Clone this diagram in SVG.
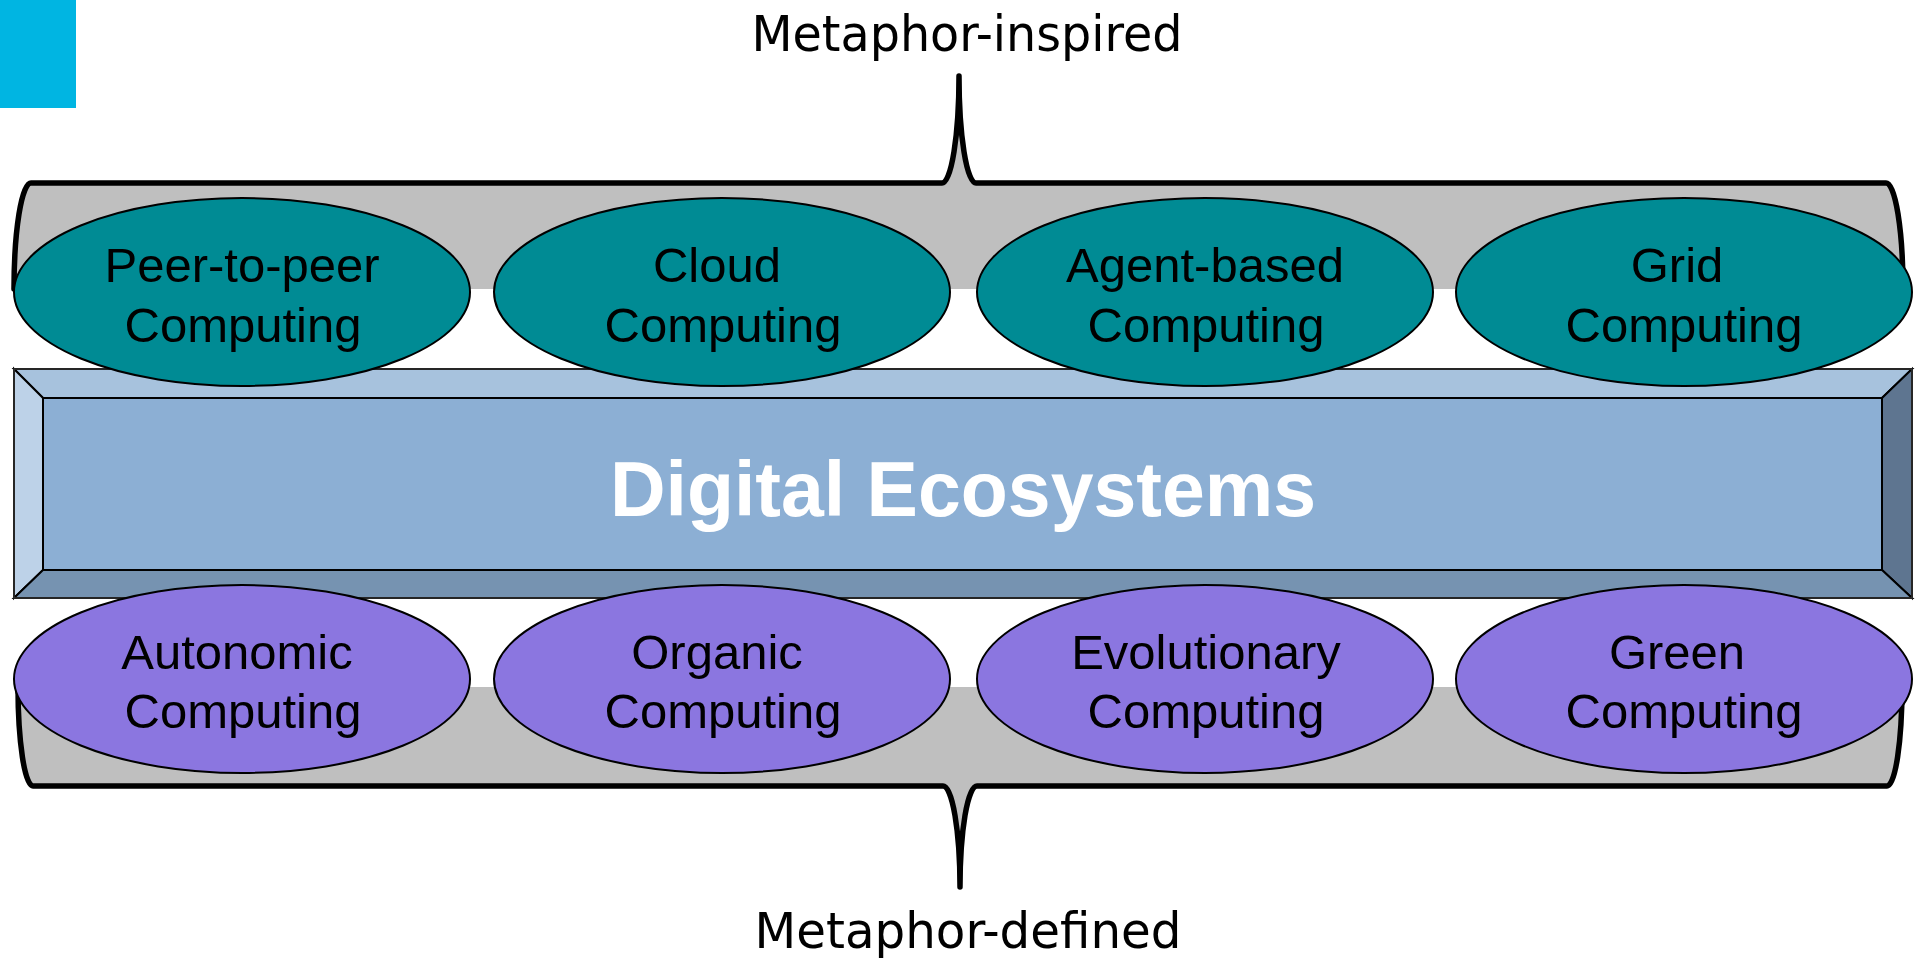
<svg xmlns="http://www.w3.org/2000/svg" width="1915" height="961" viewBox="0 0 1915 961">
  <style>
    .brace { fill: #BFBFBF; stroke: #000; stroke-width: 5.5; stroke-linecap: round; stroke-linejoin: round; }
    .top { fill: #008B94; stroke: #000; stroke-width: 2; }
    .bottom { fill: #8B76E0; stroke: #000; stroke-width: 2; }
    .label { font-family: "Liberation Sans", Arial, sans-serif; font-size: 49px; fill: #000; text-anchor: middle; }
    .caption { font-family: "DejaVu Sans", Verdana, sans-serif; font-size: 49px; fill: #000; text-anchor: middle; }
    .title { font-family: "Liberation Sans", Arial, sans-serif; font-size: 77px; font-weight: bold; fill: #FFF; text-anchor: middle; }
    .edge { stroke: #000; stroke-width: 2; stroke-linejoin: miter; }
  </style>

  <rect id="corner-mark" x="0" y="0" width="76" height="108" fill="#00B5E2"/>

  <!-- brackets above and below the stack -->
  <g id="braces">
    <path class="brace" d="M14,289 A17,106 0 0 1 31,183 L942,183 A17,107 0 0 0 959,76 A17,107 0 0 0 976,183 L1886,183 A17,106 0 0 1 1903,289"/>
    <path class="brace" d="M18,687 A15,99 0 0 0 33,786 L943,786 A17,101 0 0 1 960,887 A17,101 0 0 1 977,786 L1887,786 A15,99 0 0 0 1902,687"/>
  </g>

  <text id="caption-top" class="caption" x="967" y="51" textLength="431" lengthAdjust="spacingAndGlyphs">Metaphor-inspired</text>
  <text id="caption-bottom" class="caption" x="968" y="948" textLength="427" lengthAdjust="spacingAndGlyphs">Metaphor-defined</text>

  <!-- central bevelled bar -->
  <g id="digital-ecosystems">
    <polygon class="edge" fill="#A7C2DD" points="14,369 1912,369 1882,398 43,398"/>
    <polygon class="edge" fill="#BDD2E8" points="14,369 43,398 43,570 14,598"/>
    <polygon class="edge" fill="#5E7590" points="1912,369 1912,598 1882,570 1882,398"/>
    <polygon class="edge" fill="#7693B1" points="14,598 43,570 1882,570 1912,598"/>
    <rect class="edge" fill="#8CAFD4" x="43" y="398" width="1839" height="172"/>
    <rect x="14" y="369" width="1898" height="229" fill="none" stroke="#333" stroke-width="1.5"/>
    <text class="title" x="963" y="516">Digital Ecosystems</text>
  </g>

  <!-- upper row -->
  <g id="peer-to-peer">
    <ellipse class="top" cx="242" cy="292" rx="228" ry="94"/>
    <text class="label" x="242" y="282">Peer-to-peer</text>
    <text class="label" x="243" y="342">Computing</text>
  </g>
  <g id="cloud">
    <ellipse class="top" cx="722" cy="292" rx="228" ry="94"/>
    <text class="label" x="717" y="282">Cloud</text>
    <text class="label" x="723" y="342">Computing</text>
  </g>
  <g id="agent-based">
    <ellipse class="top" cx="1205" cy="292" rx="228" ry="94"/>
    <text class="label" x="1205" y="282">Agent-based</text>
    <text class="label" x="1206" y="342">Computing</text>
  </g>
  <g id="grid">
    <ellipse class="top" cx="1684" cy="292" rx="228" ry="94"/>
    <text class="label" x="1677" y="282">Grid</text>
    <text class="label" x="1684" y="342">Computing</text>
  </g>

  <!-- lower row -->
  <g id="autonomic">
    <ellipse class="bottom" cx="242" cy="679" rx="228" ry="94"/>
    <text class="label" x="237" y="669">Autonomic</text>
    <text class="label" x="243" y="728">Computing</text>
  </g>
  <g id="organic">
    <ellipse class="bottom" cx="722" cy="679" rx="228" ry="94"/>
    <text class="label" x="717" y="669">Organic</text>
    <text class="label" x="723" y="728">Computing</text>
  </g>
  <g id="evolutionary">
    <ellipse class="bottom" cx="1205" cy="679" rx="228" ry="94"/>
    <text class="label" x="1206" y="669">Evolutionary</text>
    <text class="label" x="1206" y="728">Computing</text>
  </g>
  <g id="green">
    <ellipse class="bottom" cx="1684" cy="679" rx="228" ry="94"/>
    <text class="label" x="1677" y="669">Green</text>
    <text class="label" x="1684" y="728">Computing</text>
  </g>
</svg>
